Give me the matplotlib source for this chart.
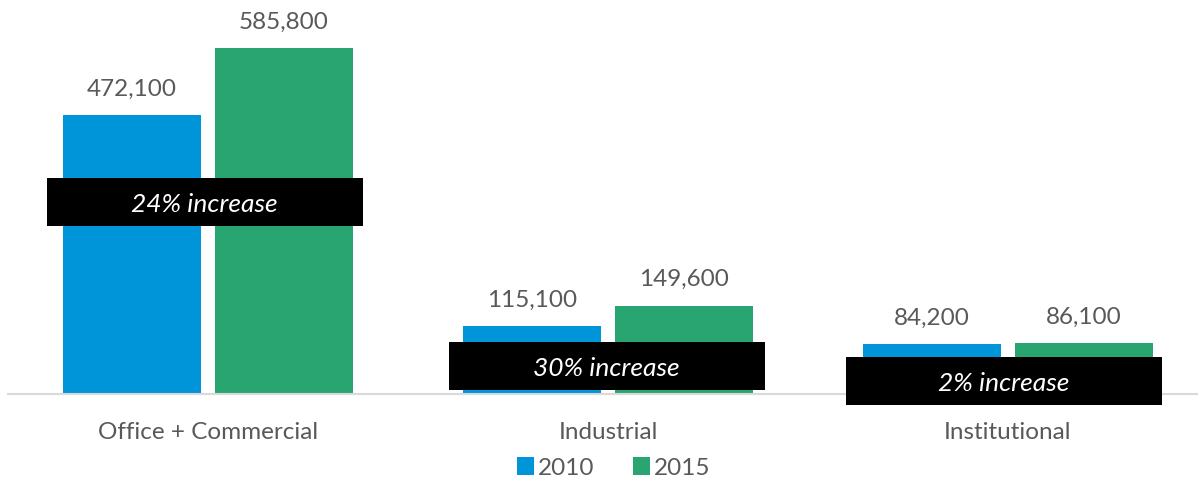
import numpy as np
import matplotlib
matplotlib.use("Agg")
import matplotlib.pyplot as plt
from matplotlib.patches import Rectangle

categories = ["Office + Commercial", "Industrial", "Institutional"]
years      = ["2010", "2015"]
vals_2010  = [472100, 115100, 84200]
vals_2015  = [585800, 149600, 86100]

COLORS   = ["#0094D8", "#29A571"]
TXT      = "#595959"
FONT     = "Lato"
FS       = 17.5
BOX_Y    = [325000, 47400, 22000]     # centre heights of the black callouts
BOX_DX   = [-0.008, -0.003, -0.01]
BOX_W, BOX_H = 0.79, 80000
BAR_W    = 0.345
OFFSET   = 0.19

plt.rcParams["font.family"] = [FONT, "DejaVu Sans"]

fig = plt.figure(figsize=(11.98, 4.80), dpi=100)
ax = fig.add_axes([8 / 1198, 86 / 480, 1190 / 1198, 374 / 480])

x = np.arange(len(categories))
for i, (vals, col) in enumerate(zip([vals_2010, vals_2015], COLORS)):
    pos = x + (i - 0.5) * 2 * OFFSET
    ax.bar(pos, vals, width=BAR_W, color=col, label=years[i], zorder=2)
    for px, v in zip(pos, vals):
        ax.text(px, v + 26000, f"{v:,}", ha="center", va="bottom",
                fontsize=FS, color=TXT)

# percentage-change callouts
for k in range(len(categories)):
    pct = round((vals_2015[k] - vals_2010[k]) / vals_2010[k] * 100)
    cx, cy = x[k] + BOX_DX[k], BOX_Y[k]
    ax.add_patch(Rectangle((cx - BOX_W / 2, cy - BOX_H / 2), BOX_W, BOX_H,
                           facecolor="black", edgecolor="none",
                           zorder=4, clip_on=False))
    ax.text(cx, cy - 4000, f"{pct}% increase", ha="center", va="center",
            fontsize=19, style="italic", color="white", zorder=5)

ax.set_xlim(-0.5, 2.475)
ax.set_ylim(0, 633000)
for s in ["top", "right", "left"]:
    ax.spines[s].set_visible(False)
ax.spines["bottom"].set_color("#D9D9D9")
ax.spines["bottom"].set_linewidth(1.5)
ax.spines["bottom"].set_zorder(3)
ax.set_yticks([])
ax.set_xticks(x)
ax.set_xticklabels(categories, fontsize=FS, color=TXT)
ax.tick_params(axis="x", length=0, pad=20)

leg = ax.legend(loc="center", ncol=2, frameon=False,
                fontsize=FS, handlelength=0.7, handleheight=0.7,
                handletextpad=0.15, columnspacing=1.6, borderpad=0)
leg.set_bbox_to_anchor((614 / 1198, 12 / 480), transform=fig.transFigure)
for t in leg.get_texts():
    t.set_color(TXT)

fig.savefig("out.png", dpi=100)
